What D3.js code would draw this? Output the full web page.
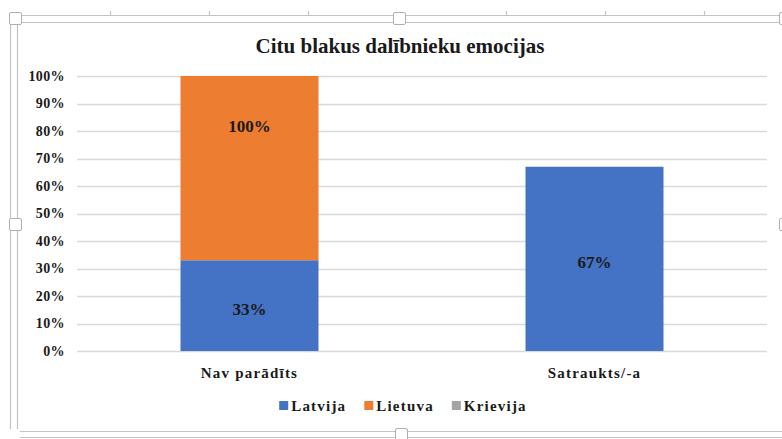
<!DOCTYPE html>
<html>
<head>
<meta charset="utf-8">
<script src="https://cdn.jsdelivr.net/npm/d3@7"></script>
<style>
  body { margin: 0; background: #fff; }
  text { font-family: "Liberation Serif", "Times New Roman", serif; font-weight: bold; fill: #1a1a1a; }
</style>
</head>
<body>
<div id="chart"></div>
<script>
var width_chart = 782,
    height_chart = 439;

// data
var categories = ["Nav parādīts", "Satraukts/-a"];
var series_names = ["Latvija", "Lietuva", "Krievija"];
var latvija = [0.33, 0.67];
var lietuva = [1.00, 0];
var krievija = [0, 0];
var y_ticks = [0, 0.1, 0.2, 0.3, 0.4, 0.5, 0.6, 0.7, 0.8, 0.9, 1.0];

var colors = { "Latvija": "#4472c4", "Lietuva": "#ed7d31", "Krievija": "#a5a5a5" };
var frame_color = "#c4c4c4";

var table = categories.map(function(c, i) {
  return { cat: c, "Latvija": latvija[i], "Lietuva": lietuva[i], "Krievija": krievija[i] };
});

var svg = d3.select("#chart").append("svg")
    .attr("width", width_chart)
    .attr("height", height_chart);

var plot = { left: 77, right: 767, top: 76, bottom: 351 };

var x = d3.scaleBand()
    .domain(categories)
    .range([plot.left, plot.right])
    .paddingInner(0.6)
    .paddingOuter(0.3);

var y = d3.scaleLinear()
    .domain([0, 1])
    .range([plot.bottom, plot.top]);

// selection frame around the chart (screenshot of the editor)
function hline(x1, x2, yy) {
  svg.append("line").attr("x1", x1).attr("x2", x2).attr("y1", yy).attr("y2", yy)
    .attr("stroke", frame_color).attr("stroke-width", 1.2);
}
function vline(xx, y1, y2) {
  svg.append("line").attr("x1", xx).attr("x2", xx).attr("y1", y1).attr("y2", y2)
    .attr("stroke", frame_color).attr("stroke-width", 1.2);
}
hline(10, 782, 15.5);
hline(18, 782, 22.5);
vline(10.5, 15, 429);
vline(17.5, 22, 429);
hline(20, 782, 431.5);
hline(20, 782, 437.5);

[110, 209, 308, 506, 605, 704].forEach(function(t) {
  vline(t + 0.5, 11, 15);
});

var handles = [[9, 12], [393, 12], [779, 12], [9, 218], [779, 218], [395, 428]];
svg.selectAll("rect.handle")
  .data(handles)
  .enter().append("rect")
  .attr("class", "handle")
  .attr("x", function(d) { return d[0] + 0.5; })
  .attr("y", function(d) { return d[1] + 0.5; })
  .attr("width", 12)
  .attr("height", 12)
  .attr("rx", 1.5)
  .style("fill", "#fff")
  .style("stroke", "#b0b0b0");

// title
svg.append("text")
  .attr("x", 400)
  .attr("y", 53)
  .attr("text-anchor", "middle")
  .style("font-size", "21px")
  .text("Citu blakus dalībnieku emocijas");

// gridlines
svg.selectAll("line.grid")
  .data(y_ticks)
  .enter().append("line")
  .attr("class", "grid")
  .attr("x1", plot.left)
  .attr("x2", plot.right)
  .attr("y1", function(d) { return Math.round(y(d)) + 0.5; })
  .attr("y2", function(d) { return Math.round(y(d)) + 0.5; })
  .attr("stroke", "#d9d9d9")
  .attr("stroke-width", 1.3);

// y axis labels
var yAxis = svg.append("g")
  .attr("transform", "translate(" + plot.left + ",0)")
  .call(d3.axisLeft(y).tickValues(y_ticks).tickSize(0).tickPadding(12).tickFormat(d3.format(".0%")));
yAxis.select(".domain").remove();
yAxis.selectAll("text")
  .style("font-family", "Liberation Serif, serif")
  .style("font-weight", "bold")
  .style("font-size", "14px")
  .style("letter-spacing", "0.4px")
  .attr("fill", "#1a1a1a");

// stacked bars, clipped at 100%
svg.append("defs").append("clipPath")
  .attr("id", "plotclip")
  .append("rect")
  .attr("x", plot.left)
  .attr("y", plot.top)
  .attr("width", plot.right - plot.left)
  .attr("height", plot.bottom - plot.top);

var stacked = d3.stack().keys(series_names)(table);

var layer = svg.append("g").attr("clip-path", "url(#plotclip)")
  .selectAll("g.layer")
  .data(stacked)
  .enter().append("g")
  .attr("class", "layer")
  .style("fill", function(d) { return colors[d.key]; });

layer.selectAll("rect")
  .data(function(d) { return d; })
  .enter().append("rect")
  .attr("x", function(d) { return x(d.data.cat); })
  .attr("width", x.bandwidth())
  .attr("y", function(d) { return y(d[1]); })
  .attr("height", function(d) { return y(d[0]) - y(d[1]); });

// data labels
var fmt = d3.format(".0%");
stacked.forEach(function(s) {
  s.forEach(function(d) {
    var v = d[1] - d[0];
    if (v <= 0) return;
    svg.append("text")
      .attr("x", x(d.data.cat) + x.bandwidth() / 2)
      .attr("y", y((d[0] + d[1]) / 2) + 3)
      .attr("dy", "0.35em")
      .attr("text-anchor", "middle")
      .style("font-size", "17px")
      .text(fmt(v));
  });
});

// category labels
svg.selectAll("text.cat")
  .data(categories)
  .enter().append("text")
  .attr("class", "cat")
  .attr("x", function(d) { return x(d) + x.bandwidth() / 2; })
  .attr("y", 378)
  .attr("text-anchor", "middle")
  .style("font-size", "15px")
  .style("letter-spacing", "1.2px")
  .text(function(d) { return d; });

// legend
var legend = svg.append("g");
var lx = 0;
series_names.forEach(function(name) {
  legend.append("rect")
    .attr("x", lx)
    .attr("y", 401)
    .attr("width", 9)
    .attr("height", 9)
    .style("fill", colors[name]);
  var t = legend.append("text")
    .attr("x", lx + 12)
    .attr("y", 411)
    .style("font-size", "15px")
    .style("letter-spacing", "1.2px")
    .text(name);
  lx += 12 + t.node().getComputedTextLength() + 18;
});
var legend_w = lx - 18;
legend.attr("transform", "translate(" + (403 - legend_w / 2) + ",0)");
</script>
</body>
</html>
